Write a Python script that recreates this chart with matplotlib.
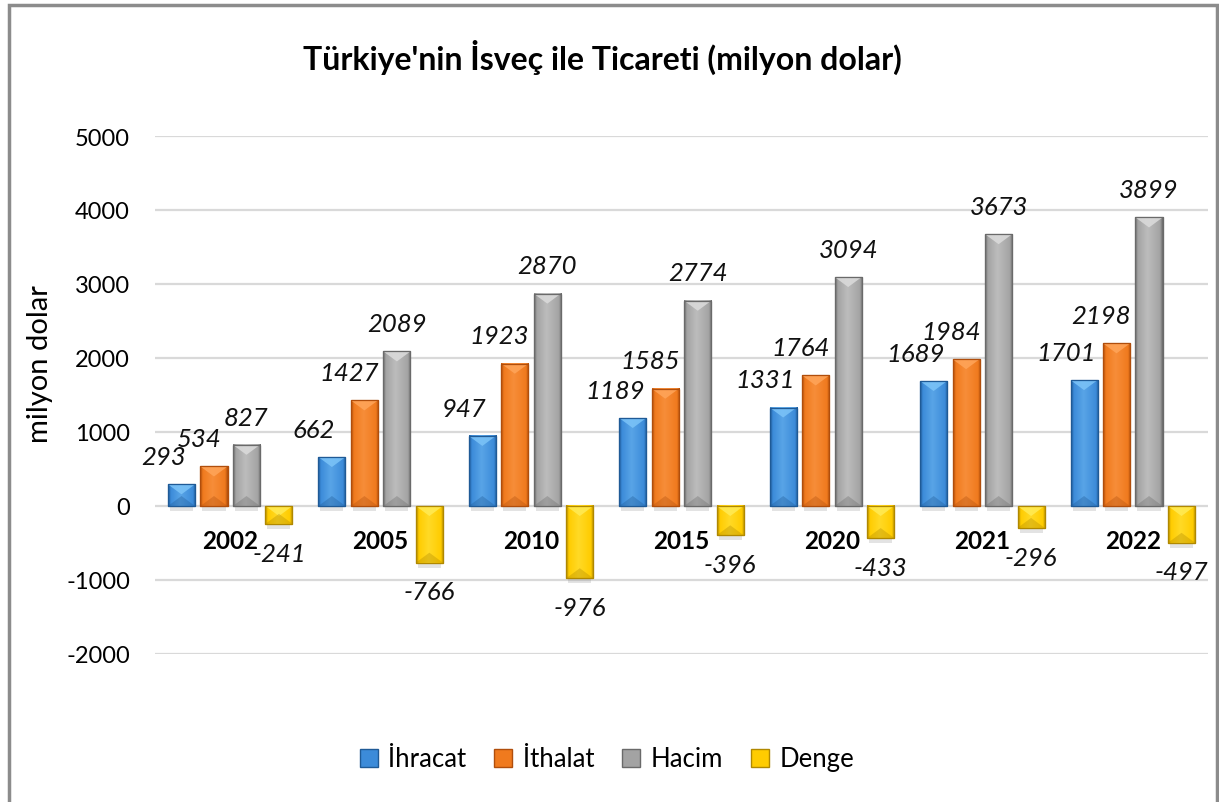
import matplotlib
matplotlib.use('Agg')
import matplotlib.pyplot as plt
import numpy as np
from matplotlib.colors import to_rgb
from matplotlib.patches import Polygon, Rectangle, Patch

years = ['2002', '2005', '2010', '2015', '2020', '2021', '2022']
ihracat = [293, 662, 947, 1189, 1331, 1689, 1701]
ithalat = [534, 1427, 1923, 1585, 1764, 1984, 2198]
hacim = [827, 2089, 2870, 2774, 3094, 3673, 3899]
denge = [-241, -766, -976, -396, -433, -296, -497]
series_names = ['İhracat', 'İthalat', 'Hacim', 'Denge']
yticks = [-2000, -1000, 0, 1000, 2000, 3000, 4000, 5000]

plt.rcParams['font.family'] = ['Lato', 'DejaVu Sans']
plt.rcParams['axes.unicode_minus'] = False

W, H = 1219, 803
fig = plt.figure(figsize=(W / 100, H / 100), dpi=100)
ax = fig.add_axes([155 / W, (H - 655) / H, (1208 - 155) / W, (655 - 137) / H])
ymin, ymax = -2000, 5000
ax.set_xlim(-0.5, 6.5)
ax.set_ylim(ymin, ymax)

px_y = (ymax - ymin) / 518.0
px_x = 7.0 / 1053.0

colors = [
    ('#3C8BD9', '#7CC4F8', '#1F5A96'),
    ('#F07A1E', '#FFA55A', '#B04E0C'),
    ('#A3A3A3', '#DCDCDC', '#6A6A6A'),
    ('#FFCC00', '#FFEB55', '#B08800'),
]
data = [ihracat, ithalat, hacim, denge]
step = 0.216
bw = 0.18
label_dx = [-13, -11, 0, 0]


def mix(c1, c2, t):
    a, b = np.array(to_rgb(c1)), np.array(to_rgb(c2))
    return a * (1 - t) + b * t


x = np.arange(len(years))
for k, (vals, (base, light, dark)) in enumerate(zip(data, colors)):
    offs = (k - 1.5) * step
    bars = ax.bar(x + offs, vals, width=bw, color=base, edgecolor=dark,
                  linewidth=0.8, zorder=3)
    stops = [0, 0.1, 0.45, 0.9, 1]
    cols = [to_rgb(dark), to_rgb(base), mix(base, light, 0.45), to_rgb(base), to_rgb(dark)]
    t = np.linspace(0, 1, 64)
    grad = np.stack([np.interp(t, stops, [c[ch] for c in cols]) for ch in range(3)], axis=-1)
    for b, v in zip(bars, vals):
        x0 = b.get_x()
        x1 = x0 + b.get_width()
        xc = (x0 + x1) / 2
        lo, hi = min(0, v), max(0, v)
        ax.imshow(grad[None, :, :], extent=[x0, x1, lo, hi], aspect='auto',
                  interpolation='bilinear', zorder=3.5)
        ax.add_patch(Rectangle((x0, lo), x1 - x0, hi - lo, fill=False,
                               edgecolor=dark, lw=0.9, zorder=4.5))
        dy = 10 * px_y
        ax.add_patch(Polygon([(x0, hi), (x1, hi), (xc, hi - dy)], closed=True,
                             facecolor=light, edgecolor='none', alpha=0.85, zorder=4))
        ax.add_patch(Polygon([(x0, lo), (x1, lo), (xc, lo + dy)], closed=True,
                             facecolor=dark, edgecolor='none', alpha=0.35, zorder=4))
        sy = -5 * px_y if v > 0 else v - 5 * px_y
        ax.add_patch(Rectangle((x0 + 2 * px_x, sy), x1 - x0 - 4 * px_x, 4 * px_y,
                               facecolor='#909090', edgecolor='none', alpha=0.25, zorder=2))
        ax.annotate(str(v), (xc, v), xytext=(label_dx[k], 20 if v > 0 else -21),
                    textcoords='offset points', ha='center', va='center',
                    style='italic', fontsize=18.5, color='#111111', zorder=6)

for i, yr in enumerate(years):
    ax.annotate(yr, (i, 0), xytext=(0, -25), textcoords='offset points',
                ha='center', va='center', fontsize=17.5, fontweight='bold', zorder=6)

ax.set_xlim(-0.5, 6.5)
ax.set_ylim(ymin, ymax)
ax.set_yticks(yticks)
ax.set_xticks([])
ax.tick_params(axis='y', length=0, pad=18, labelsize=17)
ax.yaxis.grid(True, color='#d9d9d9', lw=1.6, zorder=0)
ax.set_axisbelow(True)
for s in ax.spines.values():
    s.set_visible(False)

fig.text(602 / W, 1 - 57 / H, "Türkiye'nin İsveç ile Ticareti (milyon dolar)",
         fontsize=23, fontweight='bold', ha='center', va='center')
fig.text(40 / W, 1 - 364 / H, 'milyon dolar', rotation=90, fontsize=21,
         ha='center', va='center')

handles = [Patch(facecolor=c[0], edgecolor=c[2], label=n) for c, n in zip(colors, series_names)]
fig.legend(handles=handles, loc='center', bbox_to_anchor=(607 / W, 1 - 760 / H), ncol=4,
           frameon=False, handlelength=0.7, handleheight=0.7, columnspacing=1.1,
           handletextpad=0.4, fontsize=18.5)

fig.add_artist(Rectangle((9 / W, -0.1), (1217 - 9) / W, (H - 6) / H + 0.1,
                         transform=fig.transFigure, fill=False, edgecolor='#8c8c8c', lw=2.5))

fig.savefig('out.png', dpi=100)
